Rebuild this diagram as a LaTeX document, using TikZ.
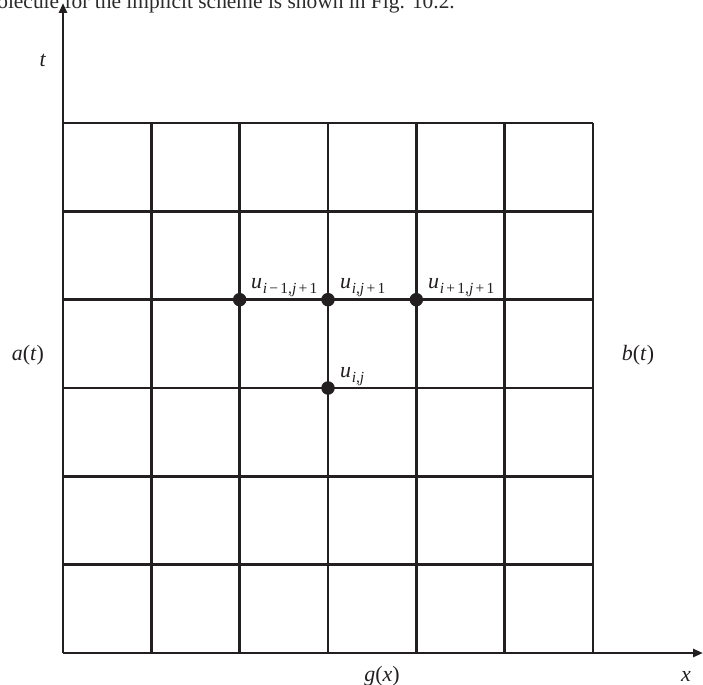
\documentclass[tikz,border=0pt]{standalone}
\usepackage{fontspec}
\setmainfont{Liberation Serif}
\usetikzlibrary{arrows.meta}
\definecolor{ink}{HTML}{231F20}
\definecolor{bodytext}{HTML}{2B2B2B}
\newcommand{\usub}[1]{\textit{u}\hspace{0.03em}\raisebox{-0.25em}{\fontsize{15.5}{15.5}\selectfont #1}}
\newcommand{\mi}{\hspace{0.15em}\textup{−}\hspace{0.15em}}
\newcommand{\pl}{\hspace{0.15em}\textup{+}\hspace{0.15em}}
\begin{document}
\begin{tikzpicture}[x=1bp,y=-1bp,
  gridline/.style={draw=ink,line width=2.8bp},
  axisline/.style={draw=ink,line width=2.8bp,-{Triangle[length=10bp,width=8bp]}},
  dot/.style={circle,fill=ink,inner sep=0pt,minimum size=13.5bp},
  lbl/.style={text=ink,font=\fontsize{22}{26}\selectfont,inner sep=0pt},
  ulbl/.style={lbl,anchor=base west}]
\useasboundingbox (0,0) rectangle (703,685);
\begin{scope}
\clip (0,0) rectangle (703,685);
\node[anchor=base east,text=bodytext,font=\fontsize{21.5}{24}\selectfont,inner sep=0pt] (caption) at (455,9) {molecule for the implicit scheme is shown in Fig. 10.2.};
\end{scope}
% grid
\foreach \k in {1,...,6}{
  \draw[gridline] ({63+88.333*\k},123) -- ({63+88.333*\k},653);
}
\foreach \k in {0,...,5}{
  \draw[gridline] (63,{123+88.333*\k}) -- (593,{123+88.333*\k});
}
% axes
\coordinate (O) at (63,653);
\coordinate (ytop) at (63,3);
\coordinate (xend) at (703,653);
\draw[axisline] (O) -- (ytop);
\draw[axisline] (O) -- (xend);
% dots
\node[dot] (uim) at (239.67,299.67) {};
\node[dot] (uij1) at (328,299.67) {};
\node[dot] (uip) at (416.33,299.67) {};
\node[dot] (uij) at (328,388) {};
% labels
\node[ulbl] (luim) at (251,288) {\usub{\textit{i}\mi 1,\textit{j}\pl 1}};
\node[ulbl] (luij1) at (340,288) {\usub{\textit{i},\textit{j}\pl 1}};
\node[ulbl] (luip) at (428,288) {\usub{\textit{i}\pl 1,\textit{j}\pl 1}};
\node[ulbl] (luij) at (340,377) {\usub{\textit{i},\textit{j}}};
\node[lbl] (lt) at (43,60) {\textit{t}};
\node[lbl] (la) at (28,355) {\textit{a}(\textit{t})};
\node[lbl] (lb) at (638,355) {\textit{b}(\textit{t})};
\node[lbl] (lg) at (382,676) {\textit{g}(\textit{x})};
\node[lbl] (lx) at (686,676) {\textit{x}};
\end{tikzpicture}
\end{document}
